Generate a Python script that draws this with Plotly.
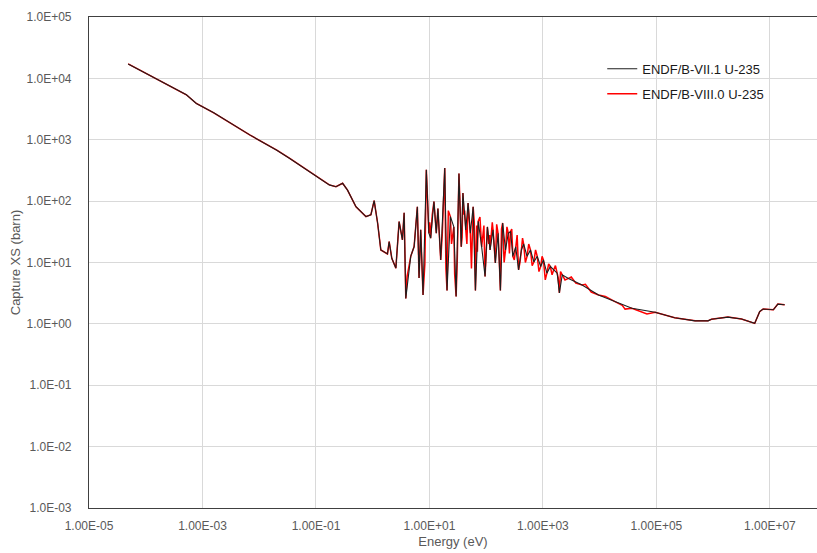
import numpy as np
import plotly.graph_objects as go

# U-235 capture cross section, ENDF/B-VII.1 (energy in eV, XS in barn)
e_vii1 = [
    4.90e-5, 1.58e-4, 3.98e-4, 5.20e-4, 7.80e-4, 1.58e-3, 6.80e-3, 2.04e-2, 3.40e-2,
    0.100, 0.172, 0.225, 0.295, 0.360, 0.507, 0.760, 0.930, 1.06, 1.22, 1.39, 1.82,
    1.95, 2.17, 2.56, 2.92, 3.34, 3.58, 3.83, 4.68, 5.37, 6.12, 6.56, 7.01, 7.71,
    8.81, 9.77, 10.5, 12.0, 13.2, 14.1, 15.8, 18.6, 20.4, 23.4, 26.9, 29.5, 33.1,
    36.3, 38.9, 43.7, 47.9, 52.5, 58.9, 64.6, 72.4, 83.2, 95.5, 105, 117, 132, 145,
    162, 178, 195, 219, 245, 269, 295, 331, 372, 417, 457, 525, 603, 692, 794, 912,
    1020, 1175, 1350, 1550, 1780, 1950, 2190, 2820, 4900, 9550, 1.86e4, 3.70e4,
    9.50e4, 2.10e5, 4.80e5, 8.10e5, 9.30e5, 1.82e6, 3.16e6, 5.40e6, 6.60e6, 7.60e6,
    1.15e7, 1.38e7, 1.82e7,
]
xs_vii1 = [
    17200, 9800, 6200, 5400, 3900, 2750, 1200, 676, 500,
    257, 184, 172, 195, 151, 81, 56, 60, 102, 44, 16, 13.8,
    21.9, 11.7, 8.1, 46.5, 23.4, 64.6, 2.6, 12.6, 18.2, 81, 5.6, 34, 2.95,
    324, 30, 25, 98, 30, 76, 11, 347, 3.5, 56, 38, 2.8, 282,
    18, 135, 34, 93, 30, 81, 3.5, 47, 18, 5.9, 38, 16, 34, 9.8,
    30, 3.5, 44, 16, 30, 32, 12.6, 18, 7.6, 16, 20, 12.6, 16, 10.2, 12.6, 8.6,
    11, 6.7, 8.6, 7.6, 6.7, 3.2, 6.3, 5.5, 4.3, 2.95, 2.3, 1.8,
    1.55, 1.26, 1.12, 1.12, 1.19, 1.29, 1.2, 1.02, 1.58, 1.75,
    1.7, 2.1, 2.05,
]

# ENDF/B-VIII.0: same evaluated points plus its finer resonance structure
e_viii0_fine = [
    4.05, 8.30, 10.1, 11.2, 12.6, 14.8, 16.8, 17.4, 19.5, 21.5, 24.5, 27.8, 31.0,
    34.7, 37.6, 40.5, 41.7, 45.7, 50.1, 55.0, 56.2, 61.7, 68.0, 70.0, 77.6, 88.0,
    91.2, 100, 111, 115, 124, 128, 138, 153, 170, 186, 207, 232, 257, 282, 313, 351,
    394, 437, 490, 562, 646, 741, 851, 966, 1100, 1260, 1450, 1660, 1860, 2040,
    2450, 3160, 3800, 5600, 7100, 1.26e4, 2.50e4, 2.80e4, 6.80e4,
]
xs_viii0_fine = [
    6.0, 9.5, 45, 60, 60, 25, 28, 90, 8.0, 70, 20, 6.5, 12,
    80, 25, 60, 70, 20, 60, 8.0, 15, 45, 40, 15, 55, 35,
    40, 12, 20, 28, 40, 45, 16, 42, 11, 35, 10, 38, 14, 35, 11, 28,
    10, 25, 10, 20, 8.9, 16, 7.1, 12.6, 5.2, 9.5, 6.3, 8.9, 5.6, 7.1,
    5.2, 5.8, 4.6, 4.4, 3.3, 2.8, 2.0, 1.74, 1.45,
]

tick_x = [1e-5, 1e-3, 1e-1, 1e1, 1e3, 1e5, 1e7]
tick_x_text = ["1.00E-05", "1.00E-03", "1.00E-01", "1.00E+01", "1.00E+03", "1.00E+05", "1.00E+07"]
tick_y = [1e-3, 1e-2, 1e-1, 1e0, 1e1, 1e2, 1e3, 1e4, 1e5]
tick_y_text = ["1.0E-03", "1.0E-02", "1.0E-01", "1.0E+00", "1.0E+01",
               "1.0E+02", "1.0E+03", "1.0E+04", "1.0E+05"]

# merge the VIII.0 point set into energy order
e_viii0 = np.concatenate([e_vii1, e_viii0_fine])
xs_viii0 = np.concatenate([xs_vii1, xs_viii0_fine])
order = np.argsort(e_viii0)
e_viii0, xs_viii0 = e_viii0[order], xs_viii0[order]

font = "Liberation Sans, Arial, sans-serif"
grey = "#595959"

fig = go.Figure()
fig.add_trace(go.Scatter(
    x=e_viii0, y=xs_viii0, mode="lines", name="ENDF/B-VIII.0 U-235",
    line=dict(color="#ff0000", width=1.5), legendgroup="viii0", legendrank=2,
))
fig.add_trace(go.Scatter(
    x=e_vii1, y=xs_vii1, mode="lines", name="ENDF/B-VII.1 U-235",
    line=dict(color="#1e1e1e", width=1.1), legendgroup="vii1", legendrank=1,
))

fig.update_layout(
    width=817, height=553,
    margin=dict(l=89, r=0, t=17, b=45),
    paper_bgcolor="white", plot_bgcolor="white",
    font=dict(family=font, size=12, color=grey),
    showlegend=True,
    legend=dict(
        x=0.705, y=0.925, xanchor="left", yanchor="top",
        traceorder="grouped", tracegroupgap=5,
        font=dict(family=font, size=13, color="#1a1a1a"),
        bgcolor="rgba(0,0,0,0)",
    ),
)
fig.update_xaxes(
    type="log", range=[-5, 7.83],
    tickvals=tick_x, ticktext=tick_x_text, ticks="",
    showgrid=True, gridcolor="#d9d9d9", gridwidth=1,
    showline=True, linecolor="#404040", linewidth=1.2, mirror=True,
    ticklabelstandoff=6,
    tickfont=dict(family=font, size=12, color=grey),
    title=dict(text="Energy (eV)", standoff=5, font=dict(family=font, size=13, color=grey)),
    zeroline=False,
)
fig.update_yaxes(
    type="log", range=[-3, 5],
    tickvals=tick_y, ticktext=tick_y_text, ticks="",
    showgrid=True, gridcolor="#d9d9d9", gridwidth=1,
    showline=True, linecolor="#404040", linewidth=1.2,
    ticklabelstandoff=14,
    tickfont=dict(family=font, size=12, color=grey),
    title=dict(text="Capture XS (barn)", standoff=2, font=dict(family=font, size=13, color=grey)),
    zeroline=False,
)

fig.write_html("out.html")
